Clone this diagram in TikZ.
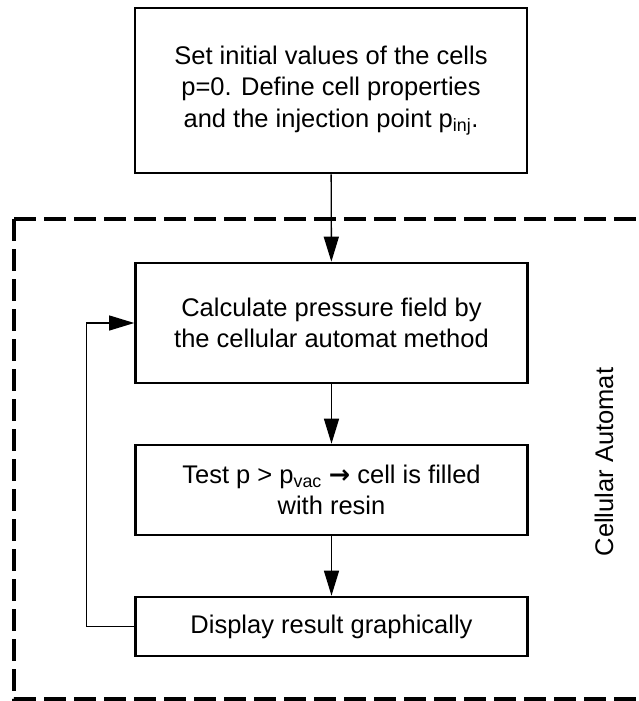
\documentclass[tikz,border=0pt]{standalone}
\usepackage{fontspec}
\setmainfont{Liberation Sans}
\newfontfamily\arrowfont{DejaVu Sans}
\usetikzlibrary{arrows.meta,positioning}

\tikzset{
  stepbox/.style={draw,line width=2.6pt,minimum width=392pt,align=center,inner sep=0pt},
  flow/.style={line width=1.4pt,-{Triangle[length=25pt,width=15pt]}},
  loopline/.style={line width=1.1pt,-{Triangle[length=25pt,width=15pt]}},
  frame/.style={line width=3.5pt,dash pattern=on 22pt off 8pt}
}

\begin{document}
\begin{tikzpicture}[x=1pt,y=-1pt,font=\fontsize{25.5}{31.5}\selectfont]
\useasboundingbox (0,0) rectangle (638,701);
\clip (0,0) rectangle (638,701);
\coordinate (corner) at (14,219);
\coordinate (topend) at (660,219);
\coordinate (bottomleft) at (14,699);
\coordinate (bottomend) at (660,699);
\draw[frame] (corner) -- (topend);
\draw[frame] (corner) -- (bottomleft) -- (bottomend);
\node[stepbox,minimum height=165pt] (init) at (331,90.5) {Set initial values of the cells\\ p=0. Define cell properties\\ and the injection point p\textsubscript{inj}.};
\node[stepbox,minimum height=120pt] (calc) at (331.5,323) {Calculate pressure field by\\ the cellular automat method};
\node[stepbox,minimum height=90pt] (test) at (331.5,490) {Test p > p\textsubscript{vac} {\arrowfont\bfseries →} cell is filled\\ with resin};
\node[stepbox,minimum height=59pt] (show) at (331.5,626.5) {Display result graphically};
\node[rotate=90] (label) at (604,462) {Cellular Automat};
\draw[flow] (init) -- (calc);
\draw[flow] (calc) -- (test);
\draw[flow] (test) -- (show);
\draw[loopline] (show.west) -- ++(-48,0) |- (calc.west);
\end{tikzpicture}
\end{document}
